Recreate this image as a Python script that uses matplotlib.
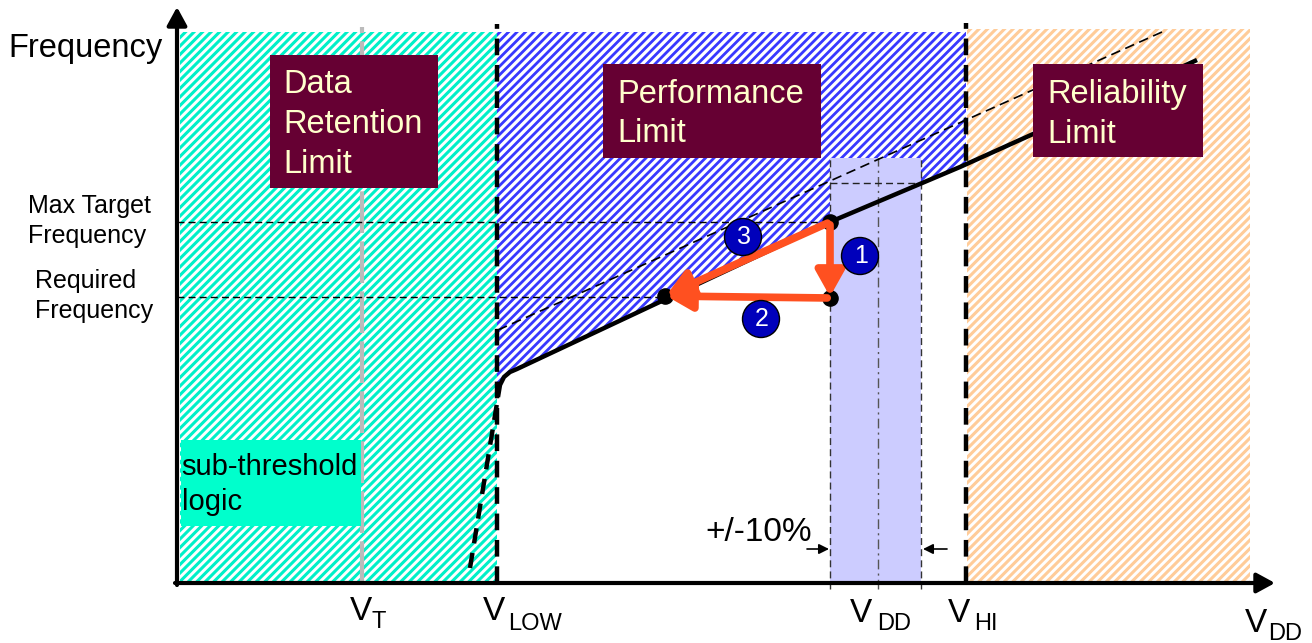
import numpy as np
import matplotlib
matplotlib.use('Agg')
import matplotlib.pyplot as plt
from matplotlib.patches import Rectangle, Polygon, Circle
from matplotlib.collections import LineCollection

plt.rcParams['font.family'] = ['Liberation Sans', 'DejaVu Sans']
plt.rcParams['lines.scale_dashes'] = False

# ---------------- data (diagram units: supply voltage on x, frequency on y) ----------------
volt_names = ['T', 'LOW', 'DD', 'HI']
volt_values = [1.85, 3.20, 7.01, 7.89]
vdd_band = [6.53, 7.44]            # +/-10% window around V_DD
band_top = 4.25
band_nominal_f = 4.00
freq_names = [['Max Target', 'Frequency'], ['Required', 'Frequency']]
freq_values = [3.61, 2.86]
region_bounds = [0.03, 3.20, 7.90, 10.73]   # data retention | performance | reliability
region_top = [5.51, 5.51, 5.54]
curve_v = [3.21, 3.23, 3.27, 3.33, 3.40, 6.53, 7.83, 10.20]
curve_f = [1.86, 1.98, 2.06, 2.11, 2.14, 3.61, 4.16, 5.23]
subthr_v = [2.93, 3.21]
subthr_f = [0.15, 1.86]
upper_v = [3.21, 9.85]
upper_f = [2.53, 5.51]
op_v = [6.53, 6.53, 4.88]
op_f = [3.61, 2.85, 2.87]
step_labels = ['1', '2', '3']
step_circle_v = [6.83, 5.84, 5.66]
step_circle_f = [3.27, 2.64, 3.46]

# ---------------- figure ----------------
fig = plt.figure(figsize=(13.12, 6.43), dpi=100)
ax = fig.add_axes([0, 0, 1, 1])
ax.set_xlim(-1.77, 11.35)
ax.set_ylim(-0.60, 5.83)
ax.axis('off')

CYAN = '#00F0C8'
BLUE = '#3838FF'
ORANGE = '#FFCC99'
LAV = '#CCCCFF'
MAROON = '#660033'
CREAM = '#FFFFCC'
RED = '#FF5020'
DOT_BLUE = '#0000BB'


def hatch_region(patch, color, spacing=0.085, lw=2.2):
    """Fill a patch with diagonal stripes clipped to it."""
    patch.set_facecolor('none')
    patch.set_edgecolor('none')
    ax.add_patch(patch)
    offsets = np.arange(-12, 12, spacing)
    segs = [[(-2, -2 + c), (14, 14 + c)] for c in offsets]
    lc = LineCollection(segs, colors=color, linewidths=lw, zorder=1)
    ax.add_collection(lc)
    lc.set_clip_path(patch)


# hatched regions
hatch_region(Rectangle((region_bounds[0], 0), region_bounds[1] - region_bounds[0], region_top[0]), CYAN)
vhi = volt_values[3]
cv = np.array(curve_v)
cf = np.array(curve_f)
f_at_hi = np.interp(vhi, cv, cf)
inside = cv < vhi
poly = [(region_bounds[1], region_top[1]), (vhi, region_top[1]), (vhi, f_at_hi)]
poly += list(zip(cv[inside][::-1], cf[inside][::-1]))
poly += [(region_bounds[1], cf[0])]
hatch_region(Polygon(poly, closed=True), BLUE, lw=2.0)
hatch_region(Rectangle((region_bounds[2], 0), region_bounds[3] - region_bounds[2], region_top[2]), ORANGE)

# V_DD +/-10% band
ax.add_patch(Rectangle((vdd_band[0], 0), vdd_band[1] - vdd_band[0], band_top,
                       facecolor=LAV, edgecolor='none', zorder=2))
for xv in vdd_band:
    ax.plot([xv, xv], [-0.06, band_top], color='#333333', lw=1.0, dashes=(5, 3), zorder=3)
ax.plot([volt_values[2]] * 2, [-0.06, band_top], color='#555555', lw=1.0,
        dashes=(7, 3, 1.5, 3), zorder=3)
ax.plot(vdd_band, [band_nominal_f] * 2, color='#222222', lw=1.0, dashes=(5, 3), zorder=3)

# frequency reference lines
ax.plot([0, op_v[0]], [freq_values[0]] * 2, color='k', lw=1.0, dashes=(5, 3), zorder=3)
ax.plot([0, op_v[2]], [freq_values[1]] * 2, color='k', lw=1.0, dashes=(5, 3), zorder=3)

# voltage boundary lines
ax.plot([volt_values[0]] * 2, [0, 5.56], color='#BBBBBB', lw=3.0, dashes=(30, 6), zorder=2)
ax.plot([volt_values[1]] * 2, [0, 5.59], color='k', lw=3.2, dashes=(12, 7), zorder=3)
ax.plot([volt_values[3]] * 2, [0, 5.60], color='k', lw=3.2, dashes=(12, 7), zorder=3)

# upper thin dashed line, main curve, sub-threshold part
ax.plot(upper_v, upper_f, color='k', lw=1.2, dashes=(7, 4), zorder=3)
ax.plot(curve_v, curve_f, color='k', lw=3.2, solid_capstyle='butt', zorder=4)
ax.plot(subthr_v, subthr_f, color='k', lw=3.2, dashes=(11, 7), zorder=4)

# axes arrows
ax.annotate('', xy=(0, 5.76), xytext=(0, -0.02),
            arrowprops=dict(arrowstyle='-|>,head_length=0.55,head_width=0.3', lw=3, color='k',
                            shrinkA=0, shrinkB=0, mutation_scale=20), zorder=6)
ax.annotate('', xy=(10.98, 0), xytext=(-0.02, 0),
            arrowprops=dict(arrowstyle='-|>,head_length=0.55,head_width=0.3', lw=3, color='k',
                            shrinkA=0, shrinkB=0, mutation_scale=20), zorder=6)


# text boxes
def box(x0, y0, x1, y1, fc):
    ax.add_patch(Rectangle((x0, y0), x1 - x0, y1 - y0, facecolor=fc, edgecolor='none', zorder=5))


box(0.93, 3.95, 2.61, 5.28, MAROON)
for t, y in zip(['Data', 'Retention', 'Limit'], [4.90, 4.50, 4.10]):
    ax.text(1.06, y, t, color=CREAM, fontsize=23.5, va='baseline', ha='left', zorder=6)
box(4.26, 4.25, 6.44, 5.19, MAROON)
for t, y in zip(['Performance', 'Limit'], [4.80, 4.41]):
    ax.text(4.40, y, t, color=CREAM, fontsize=23.5, va='baseline', ha='left', zorder=6)
box(8.56, 4.26, 10.26, 5.19, MAROON)
for t, y in zip(['Reliability', 'Limit'], [4.80, 4.40]):
    ax.text(8.70, y, t, color=CREAM, fontsize=23.5, va='baseline', ha='left', zorder=6)
box(0.04, 0.57, 1.84, 1.43, '#00FFCC')
for t, y in zip(['sub-threshold', 'logic'], [1.08, 0.73]):
    ax.text(0.045, y, t, color='k', fontsize=21, va='baseline', ha='left', zorder=6)

# left labels
ax.text(-1.69, 5.26, 'Frequency', fontsize=23.5, va='baseline', ha='left')
for lines, x, ys in zip(freq_names, [-1.49, -1.42], [[3.70, 3.40], [2.95, 2.65]]):
    for t, y in zip(lines, ys):
        ax.text(x, y, t, fontsize=18, va='baseline', ha='left')

# voltage labels
label_offsets = [(-0.12, 0.095, -0.37, -0.45), (-0.14, 0.11, -0.37, -0.47),
                 (-0.28, -0.01, -0.39, -0.47), (-0.18, 0.08, -0.39, -0.47)]
for name, v, (dv, ds, yv, ys) in zip(volt_names, volt_values, label_offsets):
    ax.text(v + dv, yv, 'V', fontsize=24, va='baseline', ha='left')
    ax.text(v + ds, ys, name, fontsize=17, va='baseline', ha='left')
ax.text(10.68, -0.49, 'V', fontsize=24, va='baseline', ha='left')
ax.text(10.91, -0.57, 'DD', fontsize=17, va='baseline', ha='left')

# +/-10% annotation
ax.text(5.28, 0.42, '+/-10%', fontsize=24, va='baseline', ha='left')
ax.annotate('', xy=(vdd_band[0] - 0.01, 0.34), xytext=(vdd_band[0] - 0.23, 0.34),
            arrowprops=dict(arrowstyle='-|>,head_length=0.4,head_width=0.2', lw=1.2, color='k',
                            shrinkA=0, shrinkB=0, mutation_scale=15))
ax.annotate('', xy=(vdd_band[1] + 0.02, 0.34), xytext=(vdd_band[1] + 0.26, 0.34),
            arrowprops=dict(arrowstyle='-|>,head_length=0.4,head_width=0.2', lw=1.2, color='k',
                            shrinkA=0, shrinkB=0, mutation_scale=15))

# operating points
ax.scatter(op_v, op_f, s=120, color='k', zorder=7)

# steps (red arrows)
steps = [(0, 1), (1, 2), (0, 2)]
for a, b in steps:
    ax.annotate('', xy=(op_v[b], op_f[b]), xytext=(op_v[a], op_f[a]),
                arrowprops=dict(arrowstyle='-|>,head_length=0.75,head_width=0.42', lw=5.5,
                                color=RED, shrinkA=2, shrinkB=1, mutation_scale=20), zorder=8)

for lab, x, y in zip(step_labels, step_circle_v, step_circle_f):
    ax.add_patch(Circle((x, y), 0.185, facecolor=DOT_BLUE, edgecolor='k', lw=1.0, zorder=9))
    ax.text(x + 0.01, y, lab, color='white', fontsize=18, ha='center', va='center', zorder=10)

fig.savefig('out.png', dpi=100)
